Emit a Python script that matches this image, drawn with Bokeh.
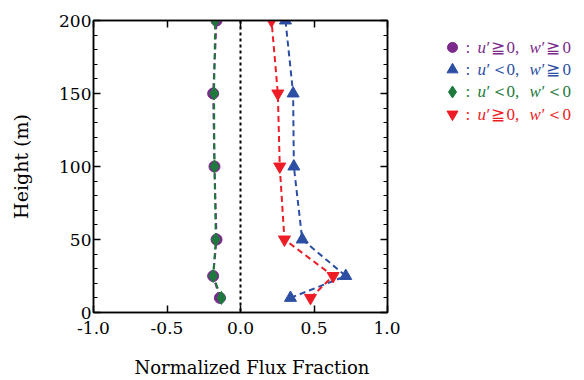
from bokeh.plotting import figure
from bokeh.models import FixedTicker, PrintfTickFormatter, Span, LinearAxis, Range1d
from bokeh.layouts import row
from bokeh.embed import file_html
from bokeh.resources import INLINE
from bokeh.core.properties import value

# ---- data ----
heights = [10, 25, 50, 100, 150, 200]
flux_pp = [-0.14, -0.186, -0.163, -0.177, -0.186, -0.163]   # u'>=0, w'>=0
flux_np = [0.34, 0.716, 0.42, 0.363, 0.358, 0.306]          # u'<0,  w'>=0
flux_nn = [-0.13, -0.186, -0.168, -0.177, -0.18, -0.172]    # u'<0,  w'<0
flux_pn = [0.476, 0.63, 0.299, 0.267, 0.254, 0.211]         # u'>=0, w'<0

x_ticks = [-1.0, -0.5, 0.0, 0.5, 1.0]
y_ticks = [0, 50, 100, 150, 200]
y_minor = list(range(0, 201, 10))

u_rel = ["≧", "＜", "＜", "≧"]
w_rel = ["≧", "≧", "＜", "＜"]

PURPLE = "#7b2a8c"
BLUE = "#2c4ea3"
GREEN = "#1d7a3c"
RED = "#ee1c25"
FONT = "DejaVu Serif"
LFONT = "Times New Roman"

series = [
    (flux_pp, PURPLE, "circle", 11),
    (flux_np, BLUE, "triangle", 12),
    (flux_pn, RED, "inverted_triangle", 12),
    (flux_nn, GREEN, "diamond", 13),
]

p = figure(width=400, height=380, x_range=Range1d(-1, 1), y_range=Range1d(0, 200),
           output_backend="svg", toolbar_location=None,
           min_border_left=93, min_border_right=13, min_border_top=20, min_border_bottom=66)
p.xgrid.visible = False
p.ygrid.visible = False
p.outline_line_color = "black"
p.outline_line_width = 1.5
p.background_fill_color = "white"
p.border_fill_color = "white"

p.add_layout(LinearAxis(), "above")
p.add_layout(LinearAxis(), "right")

for ax in p.axis:
    ax.axis_line_color = "black"
    ax.axis_line_width = 1.5
    ax.major_tick_line_color = "black"
    ax.major_tick_line_width = 1.5
    ax.major_tick_in = 7
    ax.major_tick_out = 0
    ax.minor_tick_in = 4
    ax.minor_tick_out = 0
    ax.minor_tick_line_color = "black"
    ax.minor_tick_line_width = 1
    ax.major_label_text_font = FONT
    ax.major_label_text_font_size = "17px"
    ax.major_label_text_color = "black"
    ax.axis_label_text_font = FONT
    ax.axis_label_text_font_style = "normal"
    ax.axis_label_text_font_size = "18px"
    ax.axis_label_text_color = "black"

top = p.above[0]
right = p.right[0]
bottom = p.below[0]
left = p.left[0]

for ax in (top, bottom):
    ax.ticker = FixedTicker(ticks=x_ticks)
    ax.formatter = PrintfTickFormatter(format="%.1f")
    ax.minor_tick_line_color = None
for ax in (left, right):
    ax.ticker = FixedTicker(ticks=y_ticks, minor_ticks=y_minor)

top.major_label_overrides = {t: "" for t in x_ticks}
top.major_label_standoff = 0
right.major_label_overrides = {t: "" for t in y_ticks}
right.major_label_standoff = 0
bottom.major_label_standoff = 9
left.major_label_standoff = 2

# leading no-break spaces nudge the centred title slightly right, as in the source
bottom.axis_label = "\u00a0\u00a0\u00a0\u00a0Normalized Flux Fraction"
bottom.axis_label_standoff = 20
left.axis_label = "Height (m)"
left.axis_label_text_font_size = "19px"
left.axis_label_standoff = 24

p.add_layout(Span(location=0, dimension="height", line_color="black",
                  line_dash="3 3", line_width=2))

for xs, color, marker, size in series:
    p.line(xs, heights, line_color=color, line_width=2, line_dash="6 4")
    p.scatter(xs, heights, marker=marker, size=size, fill_color=color, line_color=color)

# ---- legend panel ----
lg = figure(width=180, height=380, x_range=Range1d(0, 180), y_range=Range1d(380, 0),
            output_backend="svg", toolbar_location=None,
            min_border_left=0, min_border_right=0, min_border_top=0, min_border_bottom=0)
lg.axis.visible = False
lg.xgrid.visible = False
lg.ygrid.visible = False
lg.outline_line_color = None

row_y0, row_dy = 35, 29
x0 = 52
for i, (xs, color, marker, size) in enumerate([series[0], series[1], series[3], series[2]]):
    y = row_y0 + i * row_dy
    lg.scatter([x0], [y], marker=marker, size=size - 1, fill_color=color, line_color=color)
    normal_txt = [":", "′", u_rel[i], "0,", "′", w_rel[i], "0"]
    normal_x = [x0 + 13, x0 + 34, x0 + 38, x0 + 54, x0 + 89, x0 + 93, x0 + 110]
    lg.text(normal_x, [y] * len(normal_x), text=normal_txt, text_color=color,
            text_font=value(LFONT), text_font_size="17px", text_baseline="middle",
            text_align="left")
    lg.text([x0 + 25, x0 + 77], [y, y], text=["u", "w"], text_color=color,
            text_font=value(LFONT), text_font_style="italic", text_font_size="17px",
            text_baseline="middle", text_align="left")

layout = row(p, lg)
open("out.html", "w").write(file_html(layout, INLINE))
